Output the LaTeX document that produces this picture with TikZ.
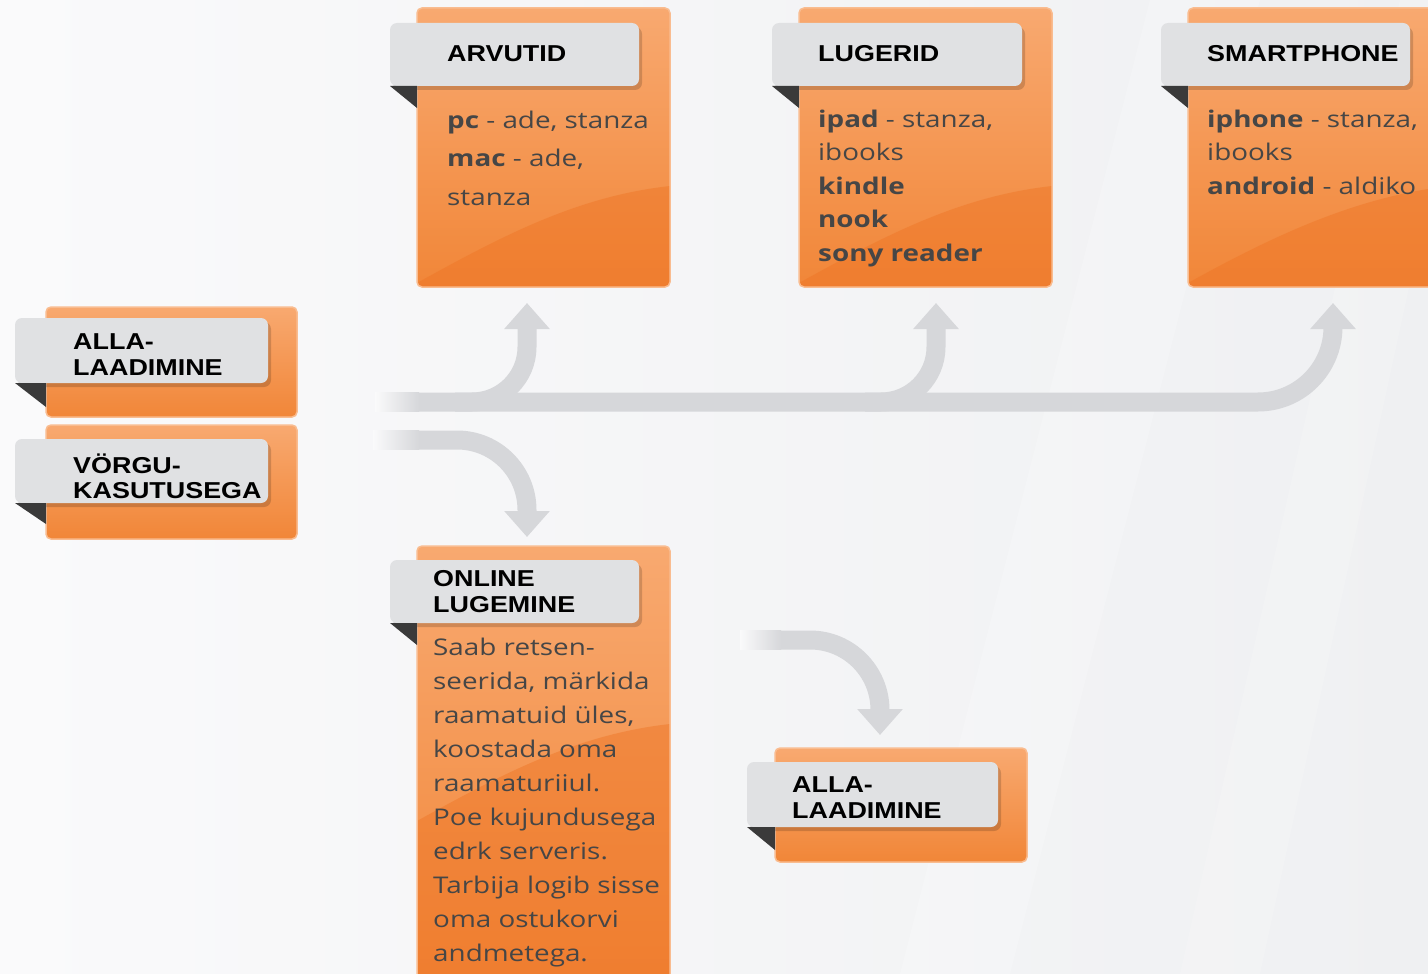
\documentclass[tikz,border=0pt]{standalone}
\usepackage{fontspec}
\setmainfont{Open Sans}
\newfontfamily\bodyfont[FakeStretch=1.21]{Open Sans}
\newfontfamily\tabfont[FakeStretch=1.17]{Liberation Sans}
\usetikzlibrary{arrows.meta}
\definecolor{orL}{HTML}{F8A970}
\definecolor{orD}{HTML}{F18638}
\definecolor{orDeep}{HTML}{EE7424}
\definecolor{orEdge}{HTML}{F9BC90}
\definecolor{tabgrey}{HTML}{E0E1E3}
\definecolor{foldc}{HTML}{3A3A3A}
\definecolor{arrowgrey}{HTML}{D6D7DA}
\definecolor{txt}{HTML}{464646}
\definecolor{bgL}{HTML}{FAFAFB}
\definecolor{bgR}{HTML}{EFF0F2}
\tikzset{
  flow/.style={draw=arrowgrey, line width=19pt, rounded corners=#1, -{Triangle[width=44pt,length=26pt]}},
  tabtext/.style={inner sep=0pt, anchor=north west, align=left, text=black,
     font=\tabfont\bfseries\fontsize{23}{25.5}\selectfont},
  bodytext/.style={inner sep=0pt, anchor=north west, align=left, text=txt,
     font=\bodyfont\fontsize{23}{#1}\selectfont},
}
% orange card: name, x1, y1, x2, y2
\newcommand\orcard[5]{%
  \shade[top color=orL, bottom color=orD, rounded corners=5pt] (#2,#3) rectangle (#4,#5);
  \begin{scope}
    \clip[rounded corners=5pt] (#2,#3) rectangle (#4,#5);
    \fill[orDeep, opacity=.45] (#2,#3+275) .. controls (#2+90,#3+225) and (#4-90,#3+188) .. (#4,#3+178) -- (#4,#5+5) -- (#2,#5+5) -- cycle;
  \end{scope}
  \draw[orEdge, line width=1.5pt, rounded corners=5pt] (#2,#3) rectangle (#4,#5);
  \coordinate (#1) at (#2,#3);
}
% grey tab: x1, y1, x2, y2, orange-left x, fold bottom y
\newcommand\greytab[6]{%
  \fill[black, opacity=.16, rounded corners=7pt] (#1+3,#2+4) rectangle (#3+3,#4+4);
  \fill[tabgrey, rounded corners=7pt] (#1,#2) rectangle (#3,#4);
  \fill[foldc] (#1,#4) -- (#5,#4) -- (#5,#6) -- cycle;
}
\begin{document}
\begin{tikzpicture}[x=1pt, y=-1pt]
\useasboundingbox (0,0) rectangle (1428,974);
\shade[left color=bgL, right color=bgR] (0,0) rectangle (1428,974);
\fill[white, opacity=.2] (900,974) -- (1150,0) -- (1260,0) -- (1010,974) -- cycle;
\fill[white, opacity=.15] (1180,974) -- (1400,0) -- (1428,0) -- (1428,200) -- (1260,974) -- cycle;

% connector coordinates
\coordinate (trunkStart) at (418,402);
\coordinate (b1start) at (455,402);
\coordinate (b2start) at (865,402);
\coordinate (tipArv) at (527,303);
\coordinate (tipLug) at (936,303);
\coordinate (tipSmart) at (1333,303);
\coordinate (d1start) at (418,440);
\coordinate (tipOnl) at (527,537);
\coordinate (d2start) at (780,640);
\coordinate (tipAlla) at (880,735);

\draw[flow=75pt] (trunkStart) -| (tipSmart);
\draw[flow=55pt] (b1start) -| (tipArv);
\draw[flow=55pt] (b2start) -| (tipLug);
\draw[flow=70pt] (d1start) -| (tipOnl);
\draw[flow=70pt] (d2start) -| (tipAlla);
\shade[left color=bgL, right color=arrowgrey] (375,392.5) rectangle (419,411.5);
\shade[left color=bgL, right color=arrowgrey] (373,430.5) rectangle (419,449.5);
\shade[left color=bgL, right color=arrowgrey] (740,630.5) rectangle (781,649.5);

% ARVUTID
\orcard{arv}{417}{8}{670}{287}
\greytab{390}{23}{639}{86}{417}{108}
\node[tabtext] (arvT) at (447,62-16.5) {ARVUTID};
\node[bodytext=38.5] (arvB) at (447,128-17.4) {\textbf{pc} - ade, stanza\\\textbf{mac} - ade,\\stanza};

% LUGERID
\orcard{lug}{799}{8}{1052}{287}
\greytab{772}{23}{1022}{86}{799}{108}
\node[tabtext] (lugT) at (818,62-16.5) {LUGERID};
\node[bodytext=33.5] (lugB) at (818,127-17.4) {\textbf{ipad} - stanza,\\ibooks\\\textbf{kindle}\\\textbf{nook}\\\textbf{sony reader}};

% SMARTPHONE
\orcard{sma}{1188}{8}{1450}{287}
\greytab{1161}{23}{1410}{86}{1188}{108}
\node[tabtext] (smaT) at (1207,62-16.5) {SMARTPHONE};
\node[bodytext=33.5] (smaB) at (1207,127-17.4) {\textbf{iphone} - stanza,\\ibooks\\\textbf{android} - aldiko};

% left: ALLA-LAADIMINE
\orcard{allaL}{46}{307}{297}{417}
\greytab{15}{318}{268}{383}{46}{407}
\node[tabtext] (allaLT) at (73,350-16.5) {ALLA-\\LAADIMINE};

% left: VÖRGU-KASUTUSEGA
\orcard{vorg}{46}{425}{297}{539}
\greytab{15}{439}{268}{503}{46}{524}
\node[tabtext] (vorgT) at (73,470-16.5) {VÖRGU-\\KASUTUSEGA};

% ONLINE LUGEMINE
\orcard{onl}{417}{546}{670}{990}
\greytab{390}{560}{639}{623}{417}{645}
\node[tabtext] (onlT) at (433,587-16.5) {ONLINE\\LUGEMINE};
\node[bodytext=34] (onlB) at (433,655-17.4) {Saab retsen-\\seerida, märkida\\raamatuid üles,\\koostada oma\\raamaturiiul.\\Poe kujundusega\\edrk serveris.\\Tarbija logib sisse\\oma ostukorvi\\andmetega.};

% bottom: ALLA-LAADIMINE
\orcard{allaB}{775}{748}{1027}{862}
\greytab{747}{762}{998}{827}{775}{850}
\node[tabtext] (allaBT) at (792,793-16.5) {ALLA-\\LAADIMINE};
\end{tikzpicture}
\end{document}
